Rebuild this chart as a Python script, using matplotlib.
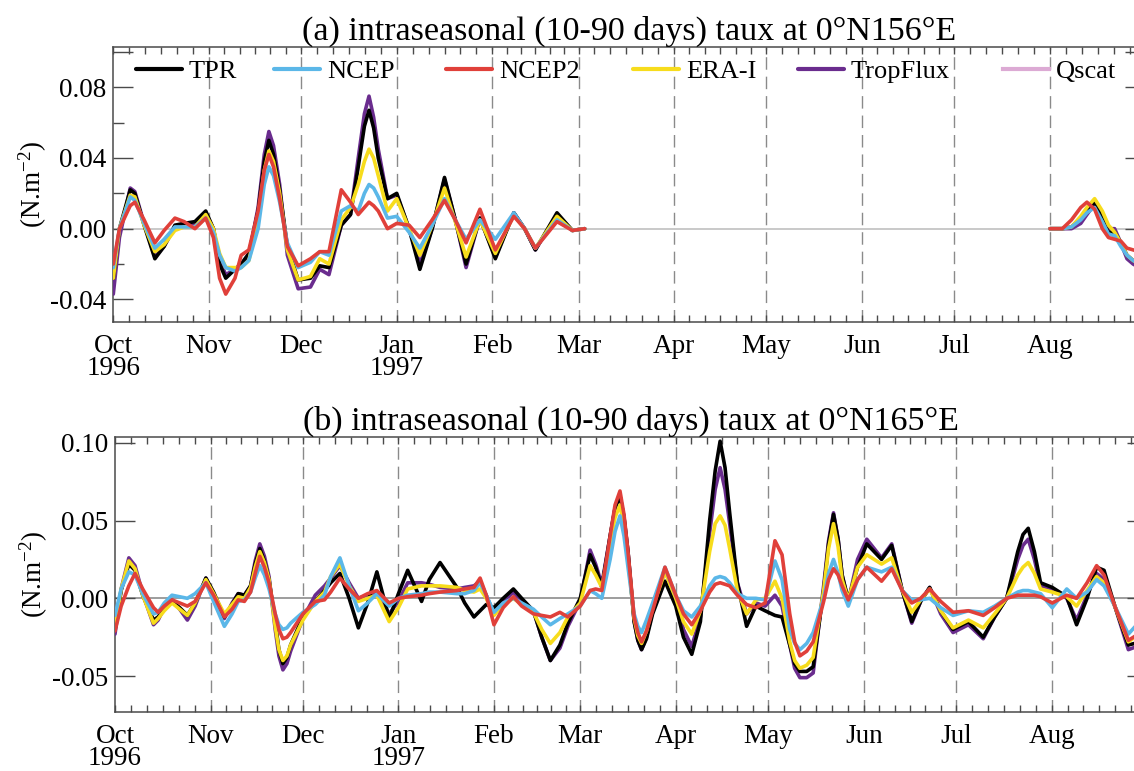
import numpy as np
import matplotlib
matplotlib.use('Agg')
import matplotlib.pyplot as plt
from matplotlib.ticker import FixedLocator, FixedFormatter
from matplotlib.legend import Legend

plt.rcParams['font.family'] = ['Liberation Serif', 'DejaVu Serif']
plt.rcParams['mathtext.fontset'] = 'custom'
plt.rcParams['mathtext.rm'] = 'Liberation Serif'
plt.rcParams['mathtext.it'] = 'Liberation Serif:italic'

# ---------------- data (values in 1e-3 N/m2, days since 1 Oct 1996) ----------------
series_names = ['TPR', 'NCEP', 'NCEP2', 'ERA-I', 'TropFlux', 'Qscat']
series_colors = ['#000000', '#5bb7e8', '#e0403a', '#f7dc1c', '#6a2c8e', '#dcaad4']

month_labels = ['Oct\n1996', 'Nov', 'Dec', 'Jan\n1997', 'Feb', 'Mar', 'Apr',
                'May', 'Jun', 'Jul', 'Aug']

# panel (a), first segment
days_a1 = [0, 2, 5.5, 7, 10, 13.5, 16.5, 20, 23, 26.5, 30, 32.5, 34.5, 36.5, 39.5,
           41.5, 44, 47,
           49, 50.5, 52, 54,
           56.5, 60, 64, 67, 70, 74, 77, 79.5,
           81.5, 83, 84.5, 86,
           89, 92, 96, 99.5, 103.5, 107.5, 111, 114.5, 119, 124, 130, 133.5, 137,
           144, 149, 153]
tpr_a1 = [-28, 0, 22, 20, 2, -17, -10, 2, 3, 4, 10, 0, -20, -28, -23, -20, -14, 10,
          38, 50, 42, 22,
          -10, -29, -28, -21, -22, 2, 8, 35,
          58, 67, 57, 40,
          17, 20, 0, -23, 0, 29, 5, -20, 6, -17, 9, 0, -12, 9, -1, 0]
ncep_a1 = [-22, 0, 18, 16, 3, -11, -6, 1, 1, 1, 6, -2, -15, -22, -24, -22, -18, 0,
           25, 35, 30, 15,
           -8, -22, -19, -13, -15, 10, 13, 10,
           20, 25, 23, 18,
           6, 7, -2, -11, 2, 17, 5, -6, 5, -6, 9, 0, -11, 5, -1, 0]
ncep2_a1 = [-20, 0, 13, 15, 5, -8, -1, 6, 4, 0, 6, -5, -28, -37, -28, -15, -12, 10,
            33, 42, 35, 17,
            -10, -21, -17, -13, -13, 22, 15, 8,
            12, 15, 13, 10,
            0, 3, 2, -5, 5, 16, 5, -8, 11, -12, 7, 0, -11, 4, -1, 0]
era_a1 = [-28, 0, 19, 18, 2, -13, -9, -1, 1, 1, 8, 0, -14, -22, -22, -22, -18, 5,
          33, 44, 38, 20,
          -12, -29, -27, -17, -20, 5, 12, 25,
          38, 45, 40, 30,
          10, 17, 0, -15, 2, 23, 4, -16, 5, -14, 8, 0, -11, 7, -1, 0]
trop_a1 = [-37, -5, 23, 21, 3, -16, -10, 1, 3, 3, 9, 0, -18, -26, -23, -21, -15, 12,
           42, 55, 47, 25,
           -15, -34, -33, -23, -26, 2, 8, 40,
           65, 75, 63, 45,
           17, 19, 0, -20, 0, 28, 5, -22, 6, -16, 9, 0, -12, 8, -1, 0]

# panel (a), second segment (August)
days_a2 = [304, 308, 311, 314, 316, 318.5, 321, 323, 325, 327, 329, 331, 333]
tpr_a2 = [0, 0, 1, 6, 11, 15, 5, -2, -2, -8, -15, -18, -20]
ncep_a2 = [0, 0, 1, 5, 9, 12, 4, -3, -4, -10, -15, -18, -20]
ncep2_a2 = [0, 0, 5, 12, 15, 11, 0, -5, -6, -7, -11, -12, -13]
era_a2 = [0, 0, 1, 7, 12, 17, 10, 2, -2, -8, -15, -18, -20]
trop_a2 = [0, 0, 0, 3, 8, 14, 7, 0, 0, -8, -17, -20, -22]

# panel (b)
days_b = [0, 2, 4.5, 6.5, 9, 12.5, 14, 16, 18.5, 21, 23.5, 26, 29.5, 32, 35.5, 38,
          40, 42,
          44, 45.5, 47, 48.5, 50, 52, 53.2, 54.5, 55.8, 57,
          61, 65, 68, 70, 73, 76, 79, 82, 85, 89, 92, 95, 99.5, 102, 105.5, 111,
          113.5, 116.5, 118.5, 120.5, 123, 126, 129.3, 132, 135.8, 138.5, 141.3,
          144.4, 147, 151, 154.2, 156, 158, 160.7,
          162.3, 163.9, 165.2, 166.5, 168.5, 169.7, 170.9, 172.5, 174.5,
          178.5, 182, 184.5, 187.2, 190, 193, 194.8, 196.4, 198, 199.5, 202, 205,
          208, 211, 214.2, 216.5, 219,
          220.6, 222.3, 224.5, 226.6, 230, 231.6, 233.2, 234.7, 236, 238,
          241, 244, 248.8, 252.1, 255.5, 258.6, 261.5, 264.4, 268, 272, 277, 281.8,
          285.5, 289.4, 293,
          294.7, 296.4, 298.4, 300.4, 304.2, 308.9, 312.1, 315.5, 318.6, 321, 324.5,
          328.9, 333]
tpr_b = [-20, 5, 22, 18, 2, -14, -12, -6, -2, -6, -11, -3, 13, 4, -12, -4, 3, 2,
         8, 22, 32, 24, 12, -15, -33, -42, -38, -30,
         -12, -2, 5, 10, 16, 0, -19, -3, 17, -13, 3, 18, -2, 12, 23, 7, -3, -12, -8,
         -4, -6, 0, 6, 0, -8, -25, -40, -30, -16, 0, 28, 20, 7, 40,
         58, 66, 52, 30, -15, -27, -33, -26, -10,
         11, -5, -25, -36, -15, 50, 82, 101, 84, 55, 10, -18, -5, -8, -11, -12, -30,
         -42, -47, -47, -44, 5, 35, 54, 38, 15, -1,
         20, 35, 25, 34, 5, -15, -2, 7, -8, -20, -15, -25, -12, 0, 30,
         41, 45, 30, 10, 7, 1, -17, 0, 20, 18, -5, -30, -28]
ncep_b = [-11, 6, 17, 15, 3, -10, -9, -3, 2, 1, 0, 3, 10, -2, -18, -10, -2, -1,
          4, 13, 21, 15, 6, -10, -17, -20, -19, -16,
          -9, -4, 2, 14, 26, 8, -8, -3, 3, -5, 0, 2, 3, 4, 4, 3, 3, 5, 10, 2, -9,
          -3, 0, -3, -7, -12, -17, -13, -10, -5, 5, 3, 0, 25,
          43, 53, 40, 20, -10, -18, -22, -14, -3,
          20, 2, -8, -12, -5, 8, 13, 14, 13, 10, 3, 0, 0, -1, 24, 12, -20,
          -29, -33, -29, -22, 0, 16, 25, 16, 5, -5,
          12, 20, 17, 20, 5, -1, -1, 0, -6, -11, -8, -9, -5, 0, 4,
          5, 5, 4, 3, -6, 6, 0, 4, 12, 8, -5, -23, -14]
ncep2_b = [-21, -5, 8, 16, 6, -6, -9, -5, -1, -3, -5, -2, 10, 2, -12, -7, -1, -2,
           4, 16, 27, 20, 10, -10, -20, -26, -25, -22,
           -10, -2, -1, 4, 13, 6, 0, 3, 5, -3, 0, 1, 2, 3, 4, 5, 6, 7, 13, 2, -17,
           -6, 1, -5, -10, -11, -12, -9, -12, -5, 5, 6, 5, 40,
           60, 69, 54, 30, -12, -22, -28, -21, -8,
           20, 2, -10, -17, -8, 4, 9, 10, 9, 8, 2, -4, -6, -3, 37, 28, -10,
           -28, -37, -34, -28, -2, 12, 19, 15, 8, -1,
           12, 20, 11, 19, 5, -3, 0, 6, -2, -9, -8, -11, -6, 0, 2,
           2, 2, 2, 1, -3, 2, 0, 10, 21, 15, -5, -27, -22]
era_b = [-19, 6, 24, 19, 2, -16, -13, -8, -3, -7, -11, -3, 12, 3, -10, -4, 1, 0,
         7, 20, 30, 23, 12, -18, -33, -40, -37, -30,
         -14, -2, 4, 14, 22, 8, -2, 0, 2, -15, -6, 6, 8, 8, 8, 7, 5, 4, 6, 0, -11,
         -4, 0, -4, -9, -20, -29, -22, -12, -3, 21, 15, 7, 35,
         52, 60, 46, 25, -13, -24, -29, -21, -6,
         17, 0, -15, -23, -8, 30, 48, 53, 47, 32, 5, -10, -1, 0, 11, 0, -28,
         -40, -45, -43, -38, 5, 32, 48, 33, 12, -1,
         20, 28, 22, 26, 5, -9, -1, 6, -8, -19, -14, -19, -10, 0, 15,
         20, 23, 16, 6, 4, 1, -5, 5, 14, 10, -5, -28, -22]
trop_b = [-23, 6, 26, 21, 3, -17, -14, -6, -1, -7, -14, -5, 13, 3, -13, -3, 3, 2,
          8, 24, 35, 27, 14, -20, -37, -46, -42, -34,
          -13, 2, 8, 13, 21, 10, 0, 2, 3, -10, -2, 10, 10, 9, 7, 6, 7, 8, 11, 2,
          -10, -2, 4, -2, -8, -25, -40, -32, -18, -2, 31, 22, 9, 40,
          58, 66, 52, 30, -15, -27, -33, -25, -8,
          18, 0, -20, -31, -12, 42, 70, 84, 70, 48, 10, -10, -3, -5, 2, -5, -30,
          -45, -51, -51, -48, 8, 37, 55, 38, 15, -2,
          25, 38, 26, 35, 5, -16, -2, 7, -10, -22, -17, -26, -12, 0, 25,
          34, 38, 25, 8, 6, 0, -14, 2, 16, 12, -5, -33, -30]

SCALE = 1e-3

# legend entry anchors (axes fraction) in panel (a)
legend_x = [0.022, 0.1557, 0.3223, 0.5036, 0.6633, 0.8619]

# ---------------- figure ----------------
fig = plt.figure(figsize=(11.34, 7.71), dpi=100)
ax_a = fig.add_axes([0.0999, 0.5828, 0.9102, 0.3567])
ax_b = fig.add_axes([0.1014, 0.0769, 0.9102, 0.3559])

month_starts = np.arange(np.datetime64('1996-10'), np.datetime64('1997-10'),
                         dtype='datetime64[M]')
month_days = (month_starts.astype('datetime64[D]') - np.datetime64('1996-10-01')).astype(float)
minor_pos = []
for i in range(len(month_days) - 1):
    L = month_days[i + 1] - month_days[i]
    for k in range(1, 6):
        minor_pos.append(month_days[i] + k * L / 6.0)

spine_col = '#4a4a4a'
fs = 19.5

draw_order = [4, 0, 3, 1, 2]  # TropFlux below, NCEP2 on top
LW = 2.6


def style_axes(ax, ylim, yticks, ylabels, yminor, zero_col):
    ax.set_xlim(0, 335)
    ax.set_ylim(*ylim)
    for d in month_days[1:11]:
        ax.axvline(d, color='#8a8a8a', lw=1.0, ls=(0, (9, 5)), zorder=1)
    ax.axhline(0, color=zero_col, lw=1.2, zorder=1)
    ax.xaxis.set_major_locator(FixedLocator(list(month_days[:11])))
    ax.xaxis.set_major_formatter(FixedFormatter(month_labels))
    ax.xaxis.set_minor_locator(FixedLocator(minor_pos))
    ax.yaxis.set_major_locator(FixedLocator(yticks))
    ax.yaxis.set_major_formatter(FixedFormatter(ylabels))
    if yminor:
        ax.yaxis.set_minor_locator(FixedLocator(yminor))
    ax.tick_params(axis='x', which='both', direction='in', top=True, bottom=True,
                   length=5, width=1.0, color=spine_col, labelsize=fs, pad=9)
    ax.tick_params(axis='y', which='major', direction='in', left=True, right=True,
                   length=14.5, width=1.0, color=spine_col, labelsize=fs, pad=5)
    ax.tick_params(axis='y', which='minor', direction='in', left=True, right=True,
                   length=8, width=1.0, color=spine_col)
    for lab in ax.get_xticklabels():
        lab.set_linespacing(0.82)
    for s in ax.spines.values():
        s.set_color(spine_col)
        s.set_linewidth(1.1)
    ax.set_ylabel('(N.m$^{-2}$)', fontsize=fs)


def draw(ax, x, y, i):
    return ax.plot(x, np.array(y) * SCALE, color=series_colors[i], lw=LW,
                   zorder=3 + draw_order.index(i), solid_capstyle='round',
                   solid_joinstyle='round')[0]


# panel (a)
seg1 = [tpr_a1, ncep_a1, ncep2_a1, era_a1, trop_a1]
seg2 = [tpr_a2, ncep_a2, ncep2_a2, era_a2, trop_a2]
handles = {}
for i in draw_order:
    handles[i] = draw(ax_a, days_a1, seg1[i], i)
    draw(ax_a, days_a2, seg2[i], i)
handles[5] = ax_a.plot([], [], color=series_colors[5], lw=LW)[0]

style_axes(ax_a, (-0.0526, 0.103), [-0.04, 0.0, 0.04, 0.08, 0.10],
           ['-0.04', '0.00', '0.04', '0.08', ''], [-0.02, 0.02, 0.06], '#c0c0c0')
ax_a.yaxis.set_label_coords(-0.062, 0.5)
ax_a.set_title('(a) intraseasonal (10-90 days) taux at 0°N156°E', fontsize=24.5, pad=5)

for i, name in enumerate(series_names):
    leg = Legend(ax_a, [handles[i]], [name], loc='center left',
                 bbox_to_anchor=(legend_x[i], 0.909), frameon=False, fontsize=19,
                 handlelength=1.75, handletextpad=0.25, borderpad=0,
                 borderaxespad=0)
    for ln in leg.get_lines():
        ln.set_linewidth(3.0)
    ax_a.add_artist(leg)

# panel (b)
ser_b = [tpr_b, ncep_b, ncep2_b, era_b, trop_b]
for i in draw_order:
    draw(ax_b, days_b, ser_b[i], i)

style_axes(ax_b, (-0.0729, 0.1035), [-0.05, 0.0, 0.05, 0.10],
           ['-0.05', '0.00', '0.05', '0.10'], None, '#8c8c8c')
ax_b.yaxis.set_label_coords(-0.063, 0.5)
ax_b.set_title('(b) intraseasonal (10-90 days) taux at 0°N165°E', fontsize=24.5, pad=2)

fig.savefig('out.png', dpi=100)
